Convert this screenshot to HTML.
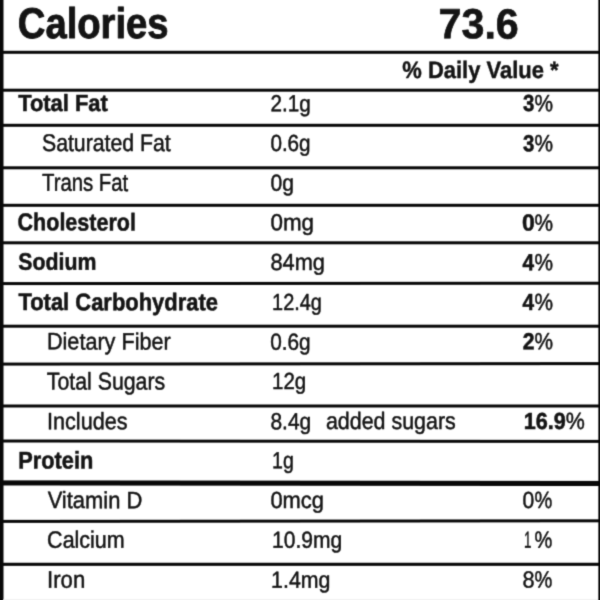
<!DOCTYPE html>
<html lang="en">
<head>
<meta charset="utf-8">
<title>Nutrition Facts</title>
<style>
html,body{margin:0;padding:0;background:#fff;}
body{width:600px;height:600px;overflow:hidden;position:relative;font-family:"Liberation Sans",sans-serif;}
svg{position:absolute;left:0;top:0;display:block;}
text{font-family:"Liberation Sans",sans-serif;fill:#141414;stroke:#141414;stroke-linejoin:round;text-rendering:geometricPrecision;}
.b{font-weight:bold;}
.ln{fill:#080808;}
</style>
</head>
<body>
<svg width="600" height="600" viewBox="0 0 600 600">
<defs><filter id="soft" x="0" y="0" width="600" height="600" filterUnits="userSpaceOnUse" color-interpolation-filters="sRGB"><feConvolveMatrix order="3" kernelMatrix="0.0225 0.1050 0.0225 0.1050 0.4900 0.1050 0.0225 0.1050 0.0225" divisor="1" edgeMode="duplicate" preserveAlpha="true"/></filter></defs>
<g filter="url(#soft)">
<rect x="0" y="0" width="600" height="600" fill="#ffffff"/>
<g class="lines">
<rect class="ln" x="0" y="50.80" width="600" height="3.00"/>
<rect class="ln" x="0" y="88.70" width="600" height="3.00"/>
<rect class="ln" x="0" y="123.80" width="600" height="3.00"/>
<rect class="ln" x="0" y="166.30" width="600" height="3.00"/>
<rect class="ln" x="0" y="203.80" width="600" height="3.00"/>
<rect class="ln" x="0" y="241.30" width="600" height="3.00"/>
<rect class="ln" x="0" y="282.08" width="60" height="3.00"/><rect class="ln" x="60" y="282.04" width="60" height="3.00"/><rect class="ln" x="120" y="282.00" width="60" height="3.00"/><rect class="ln" x="180" y="281.96" width="60" height="3.00"/><rect class="ln" x="240" y="281.92" width="60" height="3.00"/><rect class="ln" x="300" y="281.88" width="60" height="3.00"/><rect class="ln" x="360" y="281.84" width="60" height="3.00"/><rect class="ln" x="420" y="281.80" width="60" height="3.00"/><rect class="ln" x="480" y="281.76" width="60" height="3.00"/><rect class="ln" x="540" y="281.72" width="60" height="3.00"/>
<rect class="ln" x="0" y="324.70" width="600" height="3.00"/>
<rect class="ln" x="0" y="362.58" width="60" height="3.00"/><rect class="ln" x="60" y="362.53" width="60" height="3.00"/><rect class="ln" x="120" y="362.48" width="60" height="3.00"/><rect class="ln" x="180" y="362.43" width="60" height="3.00"/><rect class="ln" x="240" y="362.38" width="60" height="3.00"/><rect class="ln" x="300" y="362.33" width="60" height="3.00"/><rect class="ln" x="360" y="362.28" width="60" height="3.00"/><rect class="ln" x="420" y="362.23" width="60" height="3.00"/><rect class="ln" x="480" y="362.18" width="60" height="3.00"/><rect class="ln" x="540" y="362.12" width="60" height="3.00"/>
<rect class="ln" x="0" y="404.50" width="600" height="3.00"/>
<rect class="ln" x="0" y="439.52" width="60" height="3.00"/><rect class="ln" x="60" y="439.56" width="60" height="3.00"/><rect class="ln" x="120" y="439.60" width="60" height="3.00"/><rect class="ln" x="180" y="439.64" width="60" height="3.00"/><rect class="ln" x="240" y="439.68" width="60" height="3.00"/><rect class="ln" x="300" y="439.72" width="60" height="3.00"/><rect class="ln" x="360" y="439.76" width="60" height="3.00"/><rect class="ln" x="420" y="439.80" width="60" height="3.00"/><rect class="ln" x="480" y="439.84" width="60" height="3.00"/><rect class="ln" x="540" y="439.88" width="60" height="3.00"/>
<rect class="ln" x="0" y="480.38" width="60" height="5.10"/><rect class="ln" x="60" y="480.44" width="60" height="5.10"/><rect class="ln" x="120" y="480.50" width="60" height="5.10"/><rect class="ln" x="180" y="480.56" width="60" height="5.10"/><rect class="ln" x="240" y="480.62" width="60" height="5.10"/><rect class="ln" x="300" y="480.68" width="60" height="5.10"/><rect class="ln" x="360" y="480.74" width="60" height="5.10"/><rect class="ln" x="420" y="480.80" width="60" height="5.10"/><rect class="ln" x="480" y="480.86" width="60" height="5.10"/><rect class="ln" x="540" y="480.92" width="60" height="5.10"/>
<rect class="ln" x="0" y="519.87" width="60" height="3.00"/><rect class="ln" x="60" y="519.81" width="60" height="3.00"/><rect class="ln" x="120" y="519.75" width="60" height="3.00"/><rect class="ln" x="180" y="519.69" width="60" height="3.00"/><rect class="ln" x="240" y="519.63" width="60" height="3.00"/><rect class="ln" x="300" y="519.57" width="60" height="3.00"/><rect class="ln" x="360" y="519.51" width="60" height="3.00"/><rect class="ln" x="420" y="519.45" width="60" height="3.00"/><rect class="ln" x="480" y="519.39" width="60" height="3.00"/><rect class="ln" x="540" y="519.33" width="60" height="3.00"/>
<rect class="ln" x="0" y="562.75" width="600" height="3.10"/>
<rect class="ln" x="0" y="0" width="3.50" height="600"/>
<rect x="598.35" y="0" width="2.65" height="600" fill="#050505"/>
<rect x="3" y="599.3" width="595" height="1.2" fill="#ececec"/>
</g>
<g class="labels">
<text class="b" transform="translate(17.81 37.95) scale(0.8883 1) rotate(0.05)" font-size="43.03" stroke-width="0.90">Calories</text>
<text class="b" transform="translate(438.55 38.35) scale(0.9759 1) rotate(0.05)" font-size="42.24" stroke-width="0.70">73.6</text>
<text class="b" transform="translate(402.27 77.88) scale(0.9277 1) rotate(0.05)" font-size="23.68" stroke-width="0.45">% Daily Value *</text>
<text class="b" transform="translate(18.16 110.92) scale(0.9368 1) rotate(0.05)" font-size="23.40" stroke-width="0.55">Total Fat</text>
<text transform="translate(270.55 111.35) scale(0.8929 1) rotate(0.05)" font-size="23.18" stroke-width="0.50">2.1g</text>
<g class="pct"><text class="b" transform="translate(523.12 111.11) scale(0.8804 1) rotate(0.05)" font-size="23.17" stroke-width="0.55">3</text><text transform="translate(534.57 111.23) scale(0.8863 1) rotate(0.05)" font-size="23.51" stroke-width="0.50">%</text></g>
<text transform="translate(41.96 151.00) scale(0.8789 1) rotate(0.05)" font-size="24.18" stroke-width="0.50">Saturated Fat</text>
<text transform="translate(270.38 150.94) scale(0.8903 1) rotate(0.05)" font-size="23.23" stroke-width="0.50">0.6g</text>
<g class="pct"><text class="b" transform="translate(523.12 151.16) scale(0.8804 1) rotate(0.05)" font-size="23.17" stroke-width="0.55">3</text><text transform="translate(534.57 151.28) scale(0.8863 1) rotate(0.05)" font-size="23.51" stroke-width="0.50">%</text></g>
<text transform="translate(41.99 190.80) scale(0.8296 1) rotate(0.05)" font-size="24.53" stroke-width="0.50">Trans Fat</text>
<text transform="translate(270.47 190.74) scale(0.9090 1) rotate(0.05)" font-size="23.23" stroke-width="0.50">0g</text>
<text class="b" transform="translate(17.57 230.32) scale(0.8852 1) rotate(0.05)" font-size="24.31" stroke-width="0.55">Cholesterol</text>
<text transform="translate(270.44 230.19) scale(0.9641 1) rotate(0.05)" font-size="23.23" stroke-width="0.50">0mg</text>
<g class="pct"><text class="b" transform="translate(522.05 230.56) scale(0.9940 1) rotate(0.05)" font-size="23.17" stroke-width="0.55">0</text><text transform="translate(534.57 230.68) scale(0.8863 1) rotate(0.05)" font-size="23.51" stroke-width="0.50">%</text></g>
<text class="b" transform="translate(18.31 269.65) scale(0.8943 1) rotate(0.05)" font-size="23.80" stroke-width="0.55">Sodium</text>
<text transform="translate(270.45 270.05) scale(0.9404 1) rotate(0.05)" font-size="23.18" stroke-width="0.50">84mg</text>
<g class="pct"><text class="b" transform="translate(522.55 270.23) scale(0.9004 1) rotate(0.05)" font-size="23.11" stroke-width="0.55">4</text><text transform="translate(534.57 270.18) scale(0.8863 1) rotate(0.05)" font-size="23.51" stroke-width="0.50">%</text></g>
<text class="b" transform="translate(18.45 310.08) scale(0.9098 1) rotate(0.05)" font-size="24.11" stroke-width="0.55">Total Carbohydrate</text>
<text transform="translate(272.07 309.90) scale(0.8590 1) rotate(0.05)" font-size="23.18" stroke-width="0.50">12.4g</text>
<g class="pct"><text class="b" transform="translate(522.55 310.08) scale(0.9004 1) rotate(0.05)" font-size="23.11" stroke-width="0.55">4</text><text transform="translate(534.57 310.03) scale(0.8863 1) rotate(0.05)" font-size="23.51" stroke-width="0.50">%</text></g>
<text transform="translate(46.94 349.35) scale(0.9157 1) rotate(0.05)" font-size="23.61" stroke-width="0.50">Dietary Fiber</text>
<text transform="translate(270.17 349.69) scale(0.8949 1) rotate(0.05)" font-size="23.23" stroke-width="0.50">0.6g</text>
<g class="pct"><text class="b" transform="translate(522.69 349.33) scale(0.9169 1) rotate(0.05)" font-size="23.11" stroke-width="0.55">2</text><text transform="translate(534.57 349.28) scale(0.8863 1) rotate(0.05)" font-size="23.51" stroke-width="0.50">%</text></g>
<text transform="translate(46.79 389.45) scale(0.8763 1) rotate(0.05)" font-size="24.32" stroke-width="0.50">Total Sugars</text>
<text transform="translate(272.04 389.05) scale(0.8839 1) rotate(0.05)" font-size="23.18" stroke-width="0.50">12g</text>
<text transform="translate(47.04 429.25) scale(0.9101 1) rotate(0.05)" font-size="23.75" stroke-width="0.50">Includes</text>
<text transform="translate(270.47 429.25) scale(0.9038 1) rotate(0.05)" font-size="23.18" stroke-width="0.50">8.4g</text>
<g class="pct"><text class="b" transform="translate(523.71 428.93) scale(0.9354 1) rotate(0.05)" font-size="23.11" stroke-width="0.55">16.9</text><text transform="translate(565.86 428.88) scale(0.9113 1) rotate(0.05)" font-size="23.51" stroke-width="0.50">%</text></g>
<text class="b" transform="translate(18.29 468.43) scale(0.9021 1) rotate(0.05)" font-size="24.11" stroke-width="0.55">Protein</text>
<text transform="translate(272.09 468.15) scale(0.8455 1) rotate(0.05)" font-size="23.18" stroke-width="0.50">1g</text>
<text transform="translate(47.63 508.10) scale(0.9283 1) rotate(0.05)" font-size="23.61" stroke-width="0.50">Vitamin D</text>
<text transform="translate(270.45 507.94) scale(0.9424 1) rotate(0.05)" font-size="23.23" stroke-width="0.50">0mcg</text>
<g class="pct"><text transform="translate(522.57 507.94) scale(0.9078 1) rotate(0.05)" font-size="23.23" stroke-width="0.50">0</text><text transform="translate(534.59 508.03) scale(0.8512 1) rotate(0.05)" font-size="23.51" stroke-width="0.50">%</text></g>
<text transform="translate(47.12 547.75) scale(0.9064 1) rotate(0.05)" font-size="23.69" stroke-width="0.50">Calcium</text>
<text transform="translate(272.01 547.75) scale(0.9071 1) rotate(0.05)" font-size="23.18" stroke-width="0.50">10.9mg</text>
<g class="pct"><text transform="translate(524.01 547.75) scale(0.5725 1) rotate(0.05)" font-size="23.18" stroke-width="0.50">1</text><text transform="translate(534.59 547.68) scale(0.8512 1) rotate(0.05)" font-size="23.51" stroke-width="0.50">%</text></g>
<text transform="translate(47.10 587.65) scale(0.9148 1) rotate(0.05)" font-size="24.18" stroke-width="0.50">Iron</text>
<text transform="translate(271.10 587.65) scale(0.9199 1) rotate(0.05)" font-size="23.18" stroke-width="0.50">1.4mg</text>
<g class="pct"><text transform="translate(522.55 587.49) scale(0.9358 1) rotate(0.05)" font-size="23.23" stroke-width="0.50">8</text><text transform="translate(534.59 587.58) scale(0.8512 1) rotate(0.05)" font-size="23.51" stroke-width="0.50">%</text></g>
<text transform="translate(325.96 428.88) scale(0.8974 1) rotate(0.05)" font-size="23.87" stroke-width="0.50">added sugars</text>
</g>
</g>
</svg>
</body>
</html>
